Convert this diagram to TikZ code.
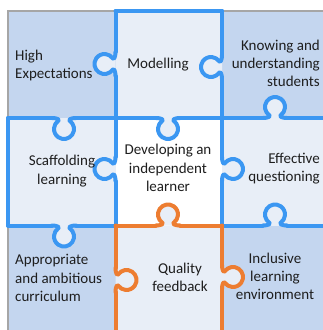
\documentclass[tikz,border=0pt]{standalone}
\usepackage{fontspec}
\setmainfont{Carlito}
\definecolor{darkfill}{HTML}{C4D6EF}
\definecolor{lightfill}{HTML}{E8EEF7}
\definecolor{lineblue}{HTML}{3B97F2}
\definecolor{lineorange}{HTML}{ED7D31}
\definecolor{bordergray}{HTML}{A6A6A6}
\definecolor{txt}{HTML}{1E1E1E}
\begin{document}
\begin{tikzpicture}[x=1pt,y=1pt,
  bl/.style={draw=lineblue,line width=4pt,line cap=round,line join=round},
  orl/.style={draw=lineorange,line width=4pt,line cap=round,line join=round},
  lbl/.style={font=\fontsize{15}{18.3}\selectfont,text=txt,inner sep=0pt},
  pics/tab/.style={code={
    \fill[lightfill] (-12,0) .. controls (-7,0) and (-4.1,1.66) .. (-5.74,2.81)
      arc[start angle=235,end angle=-55,radius=10]
      .. controls (4.1,1.66) and (7,0) .. (12,0) -- cycle;
    \draw[#1] (-12,0) .. controls (-7,0) and (-4.1,1.66) .. (-5.74,2.81)
      arc[start angle=235,end angle=-55,radius=10]
      .. controls (4.1,1.66) and (7,0) .. (12,0);
  }}]
\useasboundingbox (0,0) rectangle (323,-330);
% backgrounds
\fill[white] (0,0) rectangle (323,-330);
\fill[darkfill] (8,-11) rectangle (115.5,-118);
\fill[lightfill] (115.5,-11) rectangle (222,-118);
\fill[darkfill] (222,-11) rectangle (323,-118);
\fill[lightfill] (8,-118) rectangle (115.5,-225.5);
\fill[white] (115.5,-118) rectangle (222,-225.5);
\fill[lightfill] (222,-118) rectangle (323,-225.5);
\fill[darkfill] (8,-225.5) rectangle (115.5,-330);
\fill[lightfill] (115.5,-225.5) rectangle (222,-330);
\fill[darkfill] (222,-225.5) rectangle (323,-330);
% outer border
\draw[bordergray,line width=1.2pt] (8,-330) -- (8,-11) -- (323,-11);
% blue outlines
\draw[bl] (115.5,-11) -- (222,-11);
\draw[bl] (115.5,-11) -- (115.5,-52);
\pic[rotate=90] at (115.5,-64) {tab=bl};
\draw[bl] (115.5,-76) -- (115.5,-118);
\draw[bl] (222,-11) -- (222,-55);
\pic[rotate=90] at (222,-67) {tab=bl};
\draw[bl] (222,-79) -- (222,-118);
\draw[bl] (8,-118) -- (52,-118);
\pic[rotate=180] at (64,-118) {tab=bl};
\draw[bl] (76,-118) -- (156,-118);
\pic[rotate=180] at (168,-118) {tab=bl};
\draw[bl] (180,-118) -- (263,-118);
\pic at (275,-118) {tab=bl};
\draw[bl] (287,-118) -- (323,-118);
\draw[bl] (8,-118) -- (8,-225.5);
\draw[bl] (115.5,-118) -- (115.5,-157);
\pic[rotate=90] at (115.5,-169) {tab=bl};
\draw[bl] (115.5,-181) -- (115.5,-225.5);
\draw[bl] (222,-118) -- (222,-157);
\pic[rotate=-90] at (222,-169) {tab=bl};
\draw[bl] (222,-181) -- (222,-225.5);
\draw[bl] (8,-225.5) -- (52,-225.5);
\pic[rotate=180] at (64,-225.5) {tab=bl};
\draw[bl] (76,-225.5) -- (115.5,-225.5);
\draw[bl] (222,-225.5) -- (263,-225.5);
\pic at (275,-225.5) {tab=bl};
\draw[bl] (287,-225.5) -- (323,-225.5);
% orange outlines
\draw[orl] (115.5,-225.5) -- (156,-225.5);
\pic at (168,-225.5) {tab=orl};
\draw[orl] (180,-225.5) -- (222,-225.5);
\draw[orl] (115.5,-225.5) -- (115.5,-268);
\pic[rotate=-90] at (115.5,-280) {tab=orl};
\draw[orl] (115.5,-292) -- (115.5,-332);
\draw[orl] (222,-225.5) -- (222,-265);
\pic[rotate=-90] at (222,-277) {tab=orl};
\draw[orl] (222,-289) -- (222,-332);
% labels
\node[lbl,anchor=west,align=left] (he) at (15,-65.5) {High\\Expectations};
\node[lbl] (mo) at (158,-65) {Modelling};
\node[lbl,anchor=east,align=right] (kn) at (320,-63.5) {Knowing and\\understanding\\students};
\node[lbl,align=center] (dl) at (168,-168) {Developing an\\independent\\learner};
\node[lbl,align=center] (sc) at (62,-171) {Scaffolding\\learning};
\node[lbl,anchor=east,align=right] (eq) at (320,-168.5) {Effective\\questioning};
\node[lbl,anchor=west,align=left] (ap) at (15,-278) {Appropriate\\and ambitious\\curriculum};
\node[lbl,align=center] (qf) at (180,-277) {Quality\\feedback};
\node[lbl,align=center] (il) at (275,-276.5) {Inclusive\\learning\\environment};
\end{tikzpicture}
\end{document}
